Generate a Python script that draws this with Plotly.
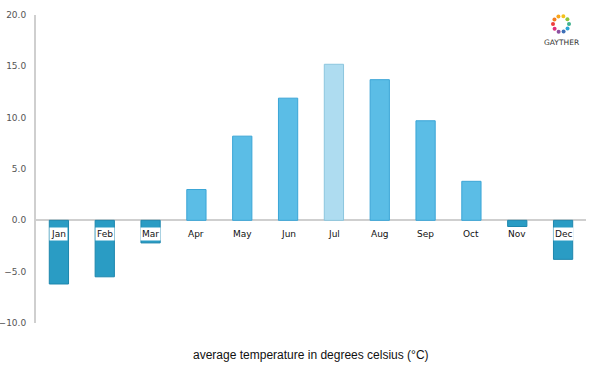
import plotly.graph_objects as go
import math

months = ["Jan", "Feb", "Mar", "Apr", "May", "Jun", "Jul", "Aug", "Sep", "Oct", "Nov", "Dec"]
temps = [-6.2, -5.5, -2.2, 3.0, 8.2, 11.9, 15.2, 13.7, 9.7, 3.8, -0.6, -3.8]
y_ticks = [-10, -5, 0, 5, 10, 15, 20]
title_text = "average temperature in degrees celsius (°C)"

def bar_color(v, m):
    if m == "Jul":
        return "#aedcf0", "#8cc6de"
    if v < 0:
        return "#2a9cc4", "#1d86ad"
    return "#5bbde6", "#3aa5d6"

fills = [bar_color(v, m)[0] for v, m in zip(temps, months)]
lines = [bar_color(v, m)[1] for v, m in zip(temps, months)]

fig = go.Figure()
fig.add_trace(go.Bar(
    x=months, y=temps, width=0.42,
    marker=dict(color=fills, line=dict(color=lines, width=1)),
    hoverinfo="x+y",
))

for m, v in zip(months, temps):
    fig.add_annotation(
        x=m, y=0, xref="x", yref="y", text=m, showarrow=False,
        yshift=-14, yanchor="middle", xanchor="center",
        font=dict(family="DejaVu Sans", size=9, color="#111"),
        bgcolor="white" if v < -1 else "rgba(0,0,0,0)",
        borderpad=1,
    )

fig.add_annotation(
    x=0.5, y=-0.104, xref="paper", yref="paper", text=title_text, showarrow=False,
    xanchor="center", yanchor="middle",
    font=dict(family="Liberation Sans, Arial", size=12, color="#111"),
)

# logo (window coords: plot area x 36..586, y 15..323)
logo_colors = ["#f4c21b", "#8cc63e", "#3fb28f", "#2aa6d6", "#3d6fb6", "#8b4fa0", "#e0307a", "#ee3d3d", "#f07c22", "#f9a51a"]
cx, cy, r = 561, 24, 8
for i, c in enumerate(logo_colors):
    a = 2 * math.pi * i / len(logo_colors) - math.pi / 2 + 0.3
    px = cx + r * math.cos(a)
    py = cy + r * math.sin(a)
    fig.add_shape(type="circle", xref="paper", yref="paper",
                  x0=(px - 2 - 36) / 550, x1=(px + 2 - 36) / 550,
                  y0=(323 - py - 2) / 308, y1=(323 - py + 2) / 308,
                  fillcolor=c, line=dict(width=0))
fig.add_annotation(x=(cx - 36) / 550, y=(323 - 42) / 308, xref="paper", yref="paper",
                   text="GAYTHER", showarrow=False, xanchor="center", yanchor="middle",
                   font=dict(family="DejaVu Sans", size=7.5, color="#333"))

fig.update_layout(
    width=600, height=375,
    margin=dict(l=36, r=14, t=15, b=52),
    plot_bgcolor="white", paper_bgcolor="white",
    showlegend=False,
    bargap=0.58,
    xaxis=dict(showticklabels=False, showgrid=False, showline=False, zeroline=False,
               ticks="", automargin=False),
    yaxis=dict(range=[-10, 20], tickvals=y_ticks, tickformat=".1f",
               showgrid=False, showline=True, linecolor="#cfcfcf", linewidth=2,
               zeroline=True, zerolinecolor="#cfcfcf", zerolinewidth=2,
               ticks="", ticklen=0, ticklabelstandoff=6, automargin=False,
               tickfont=dict(family="DejaVu Sans", size=9, color="#555")),
)

fig.write_html("out.html", config={"displayModeBar": False},
               post_script="document.body.style.margin='0';")
